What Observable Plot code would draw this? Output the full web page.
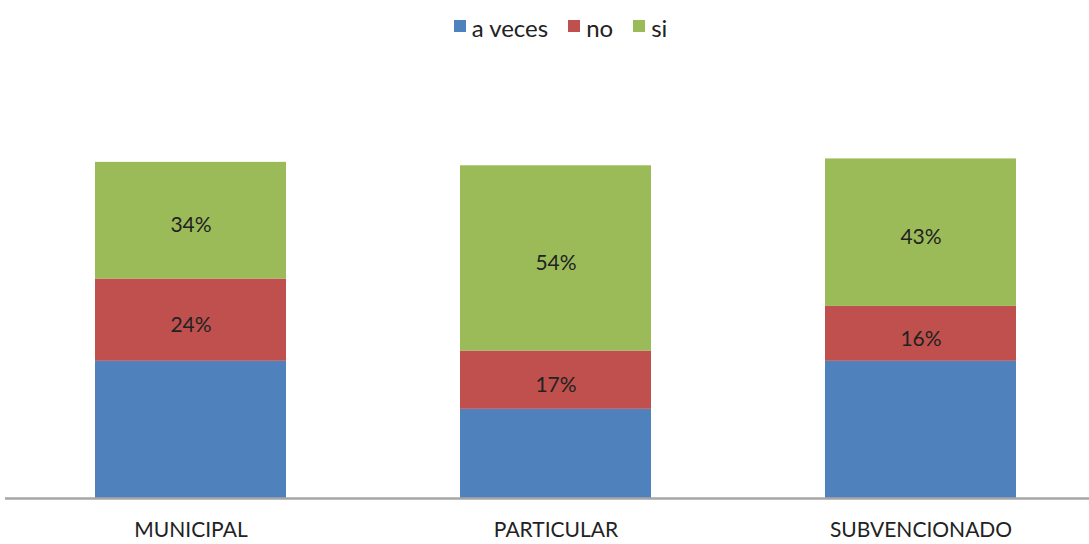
<!DOCTYPE html>
<html><head><meta charset="utf-8">
<script src="https://cdn.jsdelivr.net/npm/d3@7"></script>
<script src="https://cdn.jsdelivr.net/npm/@observablehq/plot@0.6"></script>
<style>
body{margin:0;background:#fff;font-family:Lato,"Open Sans",sans-serif;}
#legend{height:50px;display:flex;justify-content:center;align-items:center;gap:20px;font-size:24px;color:#222;padding-top:4px;padding-left:32px;box-sizing:border-box;}
#legend span.sw{display:inline-block;width:12px;height:12px;margin-right:6px;vertical-align:middle;position:relative;top:-4px;}
</style></head>
<body>
<div id="legend"></div>
<div id="chart"></div>
<script>
const categories = ["MUNICIPAL", "PARTICULAR", "SUBVENCIONADO"];
const series = ["a veces", "no", "si"];
const aVeces = [40, 26, 40];
const no = [24, 17, 16];
const si = [34, 54, 43];
const colors = ["#4F81BD", "#C0504D", "#9BBB59"];
const labeled = [false, true, true];

const valuesBySeries = [aVeces, no, si];
const data = [];
series.forEach((s, k) => categories.forEach((c, ci) => data.push({cat: c, series: s, value: valuesBySeries[k][ci], label: labeled[k]})));

const leg = document.getElementById("legend");
series.forEach((s, i) => {
  const d = document.createElement("div");
  d.innerHTML = `<span class="sw" style="background:${colors[i]}"></span>${s}`;
  leg.appendChild(d);
});

const stackOpts = {x: "cat", y: "value", z: "series", order: series};
const chart = Plot.plot({
  width: 1089,
  height: 494,
  marginTop: 0, marginBottom: 0, marginLeft: 5, marginRight: 0,
  style: {fontFamily: "Lato, 'Open Sans', sans-serif", background: "#fff"},
  x: {domain: categories, range: [8, 1103], paddingInner: 0.477, paddingOuter: 0.2385, axis: null},
  y: {domain: [0, 100], range: [448, 105], axis: null},
  color: {domain: series, range: colors},
  marks: [
    Plot.barY(data, {...stackOpts, fill: "series"}),
    Plot.text(data, Plot.stackY({...stackOpts, text: d => d.label ? d.value + "%" : "", fontSize: 21, dy: 5, fill: "#222"})),
    Plot.ruleY([0], {stroke: "#a6a6a6", strokeWidth: 2.5}),
    Plot.text(categories, {x: d => d, y: 0, text: d => d, dy: 32, fontSize: 21, fill: "#222"})
  ]
});
document.getElementById("chart").appendChild(chart);
</script>
</body></html>
